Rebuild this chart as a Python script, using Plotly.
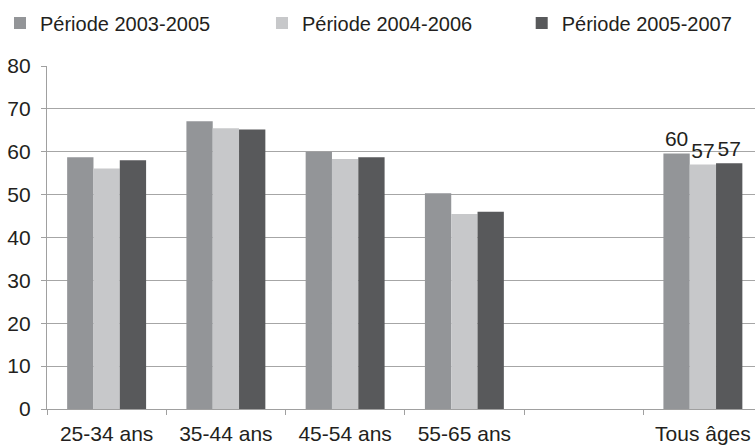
import plotly.graph_objects as go

categories = ["25-34 ans", "35-44 ans", "45-54 ans", "55-65 ans", " ", "Tous âges"]
series_names = ["Période 2003-2005", "Période 2004-2006", "Période 2005-2007"]
values_2003_2005 = [58.7, 67.1, 60.0, 50.3, None, 59.6]
values_2004_2006 = [56.1, 65.5, 58.3, 45.5, None, 57.0]
values_2005_2007 = [58.0, 65.2, 58.7, 46.0, None, 57.3]
labels_2003_2005 = ["", "", "", "", "", "60"]
labels_2004_2006 = ["", "", "", "", "", "57"]
labels_2005_2007 = ["", "", "", "", "", "57"]
y_ticks = [0, 10, 20, 30, 40, 50, 60, 70, 80]

colors = ["#939598", "#c7c8ca", "#58595b"]
legend_ids = ["legend", "legend2", "legend3"]
legend_x = [0.0, 0.347, 0.691]
FONT = "Liberation Sans, Arial, sans-serif"

fig = go.Figure()
for name, vals, labs, col, lid in zip(series_names,
                                      [values_2003_2005, values_2004_2006, values_2005_2007],
                                      [labels_2003_2005, labels_2004_2006, labels_2005_2007],
                                      colors, legend_ids):
    fig.add_trace(go.Bar(
        x=categories, y=vals, name=name, marker=dict(color=col, line=dict(width=0)),
        text=labs, textposition="outside", cliponaxis=False,
        textfont=dict(family=FONT, size=21, color="#231f20"),
        legend=lid,
    ))

legend_common = dict(orientation="h", xref="container", yref="container",
                     y=0.992, xanchor="left", yanchor="top",
                     font=dict(family=FONT, size=20, color="#231f20"),
                     itemwidth=30, bgcolor="rgba(0,0,0,0)")

fig.update_layout(
    width=755, height=445,
    margin=dict(l=47, r=0, t=66, b=36, autoexpand=False),
    paper_bgcolor="white", plot_bgcolor="white",
    barmode="group", bargap=0.338, bargroupgap=0,
    font=dict(family=FONT, size=20, color="#231f20"),
    showlegend=True,
    legend=dict(x=legend_x[0], **legend_common),
    legend2=dict(x=legend_x[1], **legend_common),
    legend3=dict(x=legend_x[2], **legend_common),
    xaxis=dict(type="category", range=[-0.5, 5.437], tickson="boundaries",
               ticks="outside", ticklen=5, tickcolor="#a0a0a0", tickwidth=1.3,
               ticklabelstandoff=6,
               showline=True, linecolor="#a0a0a0", linewidth=1.3,
               showgrid=False, tickfont=dict(family=FONT, size=21)),
    yaxis=dict(range=[0, 80], tickvals=y_ticks, ticks="outside", ticklen=5,
               tickcolor="#a0a0a0", tickwidth=1.3, ticklabelstandoff=6,
               showline=True, linecolor="#a0a0a0", linewidth=1.3,
               showgrid=True, gridcolor="#a6a6a6", gridwidth=1.3,
               zeroline=False, tickfont=dict(family=FONT, size=21)),
)

fig.write_html("out.html", config={"displayModeBar": False},
               post_script="document.body.style.margin='0';document.body.style.padding='0';document.body.style.overflow='hidden';")
